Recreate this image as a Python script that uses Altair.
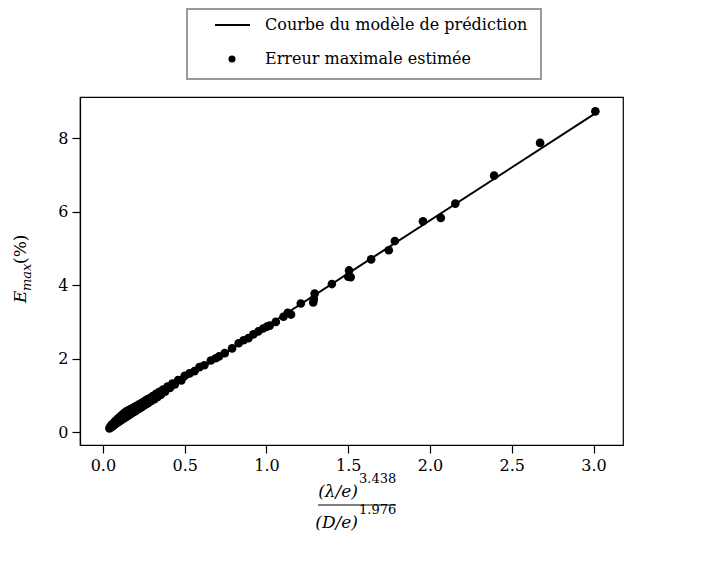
import altair as alt
import pandas as pd

FONT = "DejaVu Serif"

series_names = ["Courbe du modèle de prédiction", "Erreur maximale estimée"]

pts_x = [0.040, 0.043, 0.046, 0.050, 0.052, 0.055, 0.058, 0.060, 0.063, 0.066,
         0.070, 0.072, 0.075, 0.078, 0.080, 0.084, 0.088, 0.090, 0.094, 0.098,
         0.100, 0.104, 0.108, 0.110, 0.115, 0.118, 0.122, 0.126, 0.130, 0.134,
         0.138, 0.142, 0.146, 0.150, 0.155, 0.160, 0.165, 0.170, 0.175, 0.180,
         0.186, 0.192, 0.198, 0.204, 0.210, 0.216, 0.222, 0.230, 0.236, 0.244,
         0.250, 0.258, 0.265, 0.272, 0.280, 0.288, 0.296, 0.305, 0.315, 0.325,
         0.335, 0.345, 0.355, 0.368, 0.380, 0.395, 0.410, 0.425, 0.440, 0.460,
         0.480, 0.500, 0.530, 0.560, 0.590, 0.620, 0.660, 0.690, 0.710, 0.745,
         0.790, 0.830, 0.860, 0.890, 0.920, 0.950, 0.980, 1.003, 1.020, 1.057,
         1.104, 1.130, 1.150, 1.210, 1.286, 1.290, 1.295, 1.400, 1.505, 1.500,
         1.515, 1.640, 1.748, 1.785, 1.957, 2.066, 2.155, 2.392, 2.673, 3.011]
pts_y = [0.10, 0.14, 0.12, 0.15, 0.19, 0.15, 0.21, 0.16, 0.23, 0.19,
         0.21, 0.28, 0.22, 0.30, 0.23, 0.32, 0.26, 0.36, 0.28, 0.38,
         0.29, 0.41, 0.32, 0.44, 0.34, 0.47, 0.36, 0.50, 0.38, 0.53,
         0.41, 0.55, 0.43, 0.58, 0.45, 0.60, 0.48, 0.63, 0.51, 0.65,
         0.54, 0.68, 0.57, 0.71, 0.61, 0.74, 0.64, 0.77, 0.68, 0.81,
         0.72, 0.85, 0.76, 0.89, 0.80, 0.93, 0.85, 0.98, 0.90, 1.04,
         0.96, 1.10, 1.02, 1.16, 1.10, 1.24, 1.20, 1.32, 1.30, 1.42,
         1.41, 1.53, 1.60, 1.66, 1.77, 1.82, 1.95, 2.01, 2.06, 2.15,
         2.28, 2.42, 2.50, 2.56, 2.66, 2.74, 2.82, 2.87, 2.90, 3.00,
         3.14, 3.25, 3.20, 3.50, 3.53, 3.62, 3.77, 4.03, 4.40, 4.23,
         4.22, 4.70, 4.95, 5.20, 5.74, 5.83, 6.22, 6.98, 7.87, 8.73]

line_x = [0.04, 3.02]
line_y = [0.115, 8.70]

x_ticks = [0.0, 0.5, 1.0, 1.5, 2.0, 2.5, 3.0]
y_ticks = [0, 2, 4, 6, 8]

df_pts = pd.DataFrame({"x": pts_x, "y": pts_y})
df_line = pd.DataFrame({"x": line_x, "y": line_y})

xscale = alt.Scale(domain=[-0.14, 3.18], nice=False, zero=False)
yscale = alt.Scale(domain=[-0.35, 9.12], nice=False, zero=False)

axis_common = dict(grid=False, title=None, labelFont=FONT, labelFontSize=16,
                   labelColor="black", tickColor="black", domainColor="black",
                   tickSize=8, tickWidth=1.2, domainWidth=1.2, labelPadding=4)
xaxis = alt.Axis(values=x_ticks, format=".1f", **axis_common)
yaxis = alt.Axis(values=y_ticks, format="d", **axis_common)

line = alt.Chart(df_line).mark_line(color="black", strokeWidth=2).encode(
    x=alt.X("x:Q", scale=xscale, axis=xaxis),
    y=alt.Y("y:Q", scale=yscale, axis=yaxis),
)

points = alt.Chart(df_pts).mark_circle(size=75, color="black", opacity=1).encode(
    x=alt.X("x:Q", scale=xscale, axis=xaxis),
    y=alt.Y("y:Q", scale=yscale, axis=yaxis),
)


def label(text, x, y, size, italic=False, align="left", angle=0):
    return alt.Chart(pd.DataFrame({"t": [text]})).mark_text(
        font=FONT, fontSize=size, fontStyle="italic" if italic else "normal",
        align=align, baseline="middle", angle=angle, color="black",
    ).encode(text="t:N", x=alt.value(x), y=alt.value(y))


one = pd.DataFrame({"a": [0]})

# x-axis title as a fraction
frac_bar = alt.Chart(one).mark_rule(color="black", strokeWidth=1.2).encode(
    x=alt.value(238), x2=alt.value(316), y=alt.value(408)
)

texts = [
    label("(λ/e)", 278, 395, 17, italic=True, align="right"),
    label("3.438", 279, 382, 13),
    label("(D/e)", 278, 426, 17, italic=True, align="right"),
    label("1.976", 279, 413, 13),
    label("E", -59, 206, 17, italic=True, angle=270),
    label("max", -53, 194, 13, italic=True, angle=270),
    label("(%)", -59, 167, 17, angle=270),
]

# legend box
leg_box = alt.Chart(one).mark_rect(fill="white", stroke="#999999", strokeWidth=2).encode(
    x=alt.value(107), x2=alt.value(461), y=alt.value(-88), y2=alt.value(-18)
)
leg_line = alt.Chart(one).mark_rule(color="black", strokeWidth=2).encode(
    x=alt.value(135), x2=alt.value(170), y=alt.value(-72)
)
leg_dot = alt.Chart(one).mark_circle(size=50, color="black", opacity=1).encode(
    x=alt.value(152), y=alt.value(-38)
)
leg_texts = [
    label(series_names[0], 185, -72, 16),
    label(series_names[1], 185, -38, 16),
]

chart = alt.layer(line, points, frac_bar, leg_box, leg_line, leg_dot, *texts, *leg_texts).properties(
    width=543, height=348,
    padding={"left": 72, "top": 89, "right": 80, "bottom": 100},
    autosize=alt.AutoSizeParams(type="none"),
).configure_view(stroke="black", strokeWidth=1.2)

chart.save("out.html", embed_options={"renderer": "svg", "actions": False})
